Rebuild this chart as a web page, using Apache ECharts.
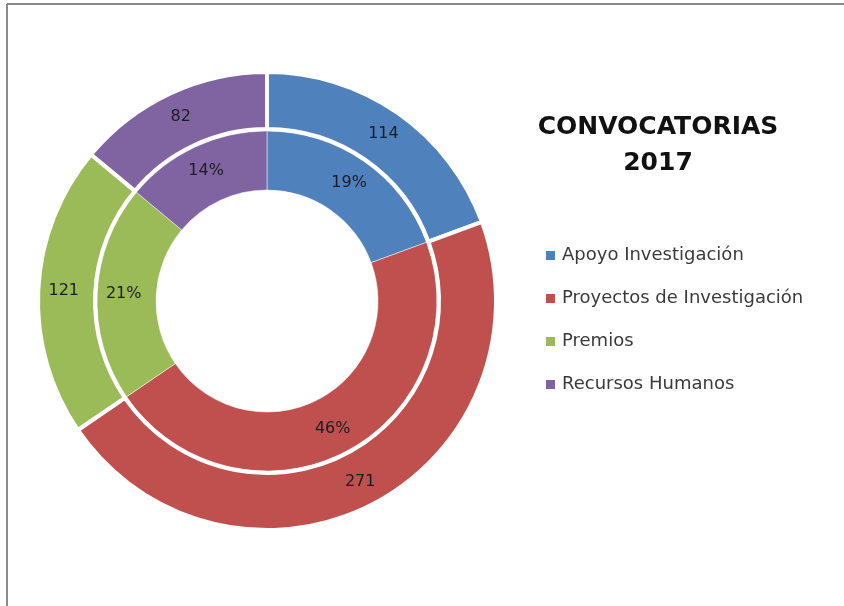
<!DOCTYPE html>
<html><head><meta charset="utf-8">
<script src="https://cdn.jsdelivr.net/npm/echarts@6/dist/echarts.min.js"></script>
<style>html,body{margin:0;padding:0;background:#fff}#c{width:844px;height:606px}</style>
</head><body><div id="c"></div>
<script>
const categories = ['Apoyo Investigación', 'Proyectos de Investigación', 'Premios', 'Recursos Humanos'];
const values = [114, 271, 121, 82];
const colors = ['#4F81BD', '#C0504D', '#9BBB59', '#8064A2'];
const titleText = 'CONVOCATORIAS\n2017';

const total = values.reduce((a, b) => a + b, 0);
const data = categories.map((n, i) => ({ name: n, value: values[i], itemStyle: { color: colors[i] } }));
const labelFont = { fontFamily: 'DejaVu Sans', fontSize: 16, color: '#1c1c24' };

const chart = echarts.init(document.getElementById('c'), null, { renderer: 'canvas' });
chart.setOption({
  backgroundColor: '#fff',
  animation: false,
  title: {
    text: titleText, left: 653, top: 104, textAlign: 'center',
    textStyle: { fontFamily: 'DejaVu Sans', fontWeight: 'bold', fontSize: 25, lineHeight: 36, color: '#111' }
  },
  legend: {
    orient: 'vertical', left: 539, top: 240,
    itemWidth: 11, itemHeight: 11, itemGap: 22, icon: 'rect',
    data: categories,
    textStyle: { fontFamily: 'DejaVu Sans', fontSize: 18, lineHeight: 21, color: '#3a3a3a', padding: [0, 0, 0, 1] }
  },
  graphic: [
    { type: 'line', shape: { x1: 7, y1: 4, x2: 844, y2: 4 }, style: { stroke: '#8a8a8a', lineWidth: 2 } },
    { type: 'line', shape: { x1: 7, y1: 4, x2: 7, y2: 606 }, style: { stroke: '#8a8a8a', lineWidth: 2 } }
  ],
  series: [
    {
      type: 'pie', center: [267, 301], radius: [111, 170], startAngle: 90, clockwise: true,
      data: data, silent: true,
      itemStyle: { borderColor: '#fff', borderWidth: 0.5 },
      label: { position: 'inside', formatter: p => Math.round(p.value / total * 100) + '%', ...labelFont },
      labelLine: { show: false }
    },
    {
      type: 'pie', center: [267, 301], radius: [172, 229], startAngle: 90, clockwise: true,
      data: data, silent: true,
      itemStyle: { borderColor: '#fff', borderWidth: 4 },
      label: { position: 'inside', formatter: '{c}', ...labelFont },
      labelLine: { show: false }
    }
  ]
});
</script></body></html>
